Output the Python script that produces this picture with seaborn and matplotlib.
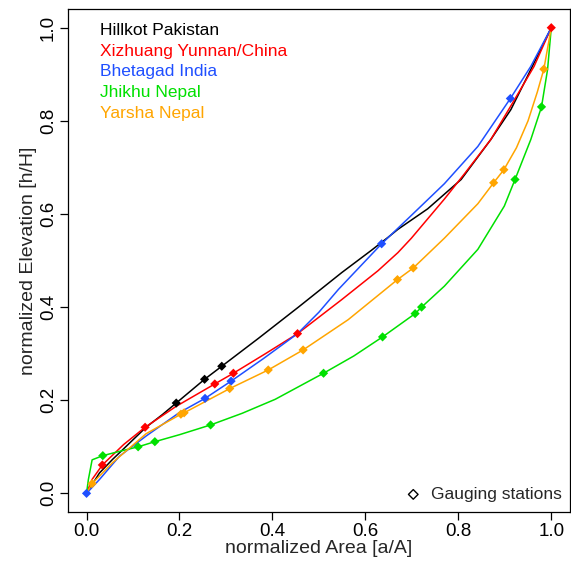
import pandas as pd
import matplotlib
matplotlib.use("Agg")
import matplotlib.pyplot as plt
import seaborn as sns

# hypsometric curves (normalized area vs normalized elevation)
hillkot_x = [0, 0.028, 0.056, 0.078, 0.128, 0.163, 0.193, 0.254, 0.291, 0.37, 0.456, 0.549, 0.613, 0.649, 0.670, 0.734, 0.806, 0.870, 0.913, 0.949, 1.0]
hillkot_y = [0, 0.044, 0.073, 0.094, 0.142, 0.169, 0.194, 0.245, 0.273, 0.333, 0.400, 0.474, 0.522, 0.550, 0.567, 0.611, 0.674, 0.760, 0.824, 0.896, 1.0]

xizhuang_x = [0, 0.012, 0.034, 0.08, 0.126, 0.193, 0.276, 0.316, 0.385, 0.454, 0.549, 0.627, 0.670, 0.699, 0.770, 0.813, 0.870, 0.913, 0.963, 1.0]
xizhuang_y = [0, 0.03, 0.061, 0.105, 0.142, 0.187, 0.235, 0.258, 0.30, 0.343, 0.416, 0.478, 0.517, 0.548, 0.632, 0.686, 0.760, 0.832, 0.917, 1.0]

bhetagad_x = [0, 0.028, 0.071, 0.128, 0.199, 0.255, 0.311, 0.38, 0.454, 0.50, 0.542, 0.635, 0.699, 0.770, 0.842, 0.912, 0.956, 1.0]
bhetagad_y = [0, 0.030, 0.080, 0.123, 0.173, 0.204, 0.241, 0.289, 0.343, 0.389, 0.438, 0.536, 0.597, 0.665, 0.745, 0.848, 0.917, 1.0]

jhikhu_x = [0, 0.004, 0.012, 0.035, 0.07, 0.111, 0.147, 0.2, 0.267, 0.335, 0.406, 0.510, 0.575, 0.637, 0.707, 0.721, 0.770, 0.842, 0.899, 0.922, 0.956, 0.979, 0.992, 1.0]
jhikhu_y = [0, 0.03, 0.072, 0.081, 0.09, 0.100, 0.111, 0.126, 0.147, 0.172, 0.202, 0.258, 0.295, 0.336, 0.386, 0.400, 0.445, 0.524, 0.617, 0.674, 0.760, 0.830, 0.91, 1.0]

yarsha_x = [0, 0.012, 0.056, 0.128, 0.203, 0.210, 0.308, 0.391, 0.466, 0.563, 0.669, 0.703, 0.770, 0.842, 0.876, 0.898, 0.925, 0.950, 0.970, 0.984, 1.0]
yarsha_y = [0, 0.021, 0.066, 0.128, 0.170, 0.173, 0.225, 0.265, 0.308, 0.373, 0.459, 0.484, 0.548, 0.622, 0.667, 0.695, 0.742, 0.800, 0.862, 0.911, 1.0]

# gauging stations
hillkot_sx = [0.193, 0.254, 0.291]
hillkot_sy = [0.194, 0.245, 0.273]
xizhuang_sx = [0.034, 0.126, 0.276, 0.316, 0.454, 1.0]
xizhuang_sy = [0.061, 0.142, 0.235, 0.258, 0.343, 1.0]
bhetagad_sx = [0, 0.255, 0.311, 0.635, 0.912]
bhetagad_sy = [0, 0.204, 0.241, 0.536, 0.848]
jhikhu_sx = [0.035, 0.111, 0.147, 0.267, 0.510, 0.637, 0.707, 0.721, 0.922, 0.979]
jhikhu_sy = [0.081, 0.100, 0.111, 0.147, 0.258, 0.336, 0.386, 0.400, 0.674, 0.830]
yarsha_sx = [0.012, 0.203, 0.210, 0.308, 0.391, 0.466, 0.669, 0.703, 0.876, 0.898, 0.984]
yarsha_sy = [0.021, 0.170, 0.173, 0.225, 0.265, 0.308, 0.459, 0.484, 0.667, 0.695, 0.911]

names = ["Hillkot Pakistan", "Xizhuang Yunnan/China", "Bhetagad India", "Jhikhu Nepal", "Yarsha Nepal"]
colors = ["black", "#ff0000", "#1f4fff", "#00e000", "#ffa500"]

curves = [(hillkot_x, hillkot_y), (xizhuang_x, xizhuang_y), (bhetagad_x, bhetagad_y),
          (jhikhu_x, jhikhu_y), (yarsha_x, yarsha_y)]
stations = [(hillkot_sx, hillkot_sy), (xizhuang_sx, xizhuang_sy), (bhetagad_sx, bhetagad_sy),
            (jhikhu_sx, jhikhu_sy), (yarsha_sx, yarsha_sy)]

curve_df = pd.concat([pd.DataFrame({"area": x, "elev": y, "basin": n})
                      for (x, y), n in zip(curves, names)], ignore_index=True)
station_df = pd.concat([pd.DataFrame({"area": x, "elev": y, "basin": n})
                        for (x, y), n in zip(stations, names)], ignore_index=True)

sns.set_style("ticks")
plt.rcParams["font.family"] = ["Liberation Sans", "DejaVu Sans"]

fig = plt.figure(figsize=(5.71, 5.67), dpi=100)
ax = fig.add_axes([0.119, 0.097, 0.879, 0.887])

palette = dict(zip(names, colors))
sns.lineplot(data=curve_df, x="area", y="elev", hue="basin", palette=palette,
             sort=False, estimator=None, linewidth=1.1, legend=False, ax=ax)
sns.scatterplot(data=station_df, x="area", y="elev", hue="basin", palette=palette,
                marker="D", s=22, linewidth=0, legend=False, ax=ax, zorder=3)

ax.set_xlim(-0.04, 1.04)
ax.set_ylim(-0.04, 1.04)
ticks = [0.0, 0.2, 0.4, 0.6, 0.8, 1.0]
ax.set_xticks(ticks)
ax.set_yticks(ticks)
ax.set_xticklabels([f"{t:.1f}" for t in ticks])
ax.set_yticklabels([f"{t:.1f}" for t in ticks], rotation=90, va="center")
ax.tick_params(direction="out", length=6, width=0.9, labelsize=13.5, pad=2, colors="black")
for s in ax.spines.values():
    s.set_visible(True)
    s.set_linewidth(0.9)
    s.set_color("black")
ax.set_xlabel("normalized Area [a/A]", fontsize=14, labelpad=0)
ax.set_ylabel("normalized Elevation [h/H]", fontsize=14, labelpad=2)

# coloured text legend
for i, (n, c) in enumerate(zip(names, colors)):
    ax.text(0.063, 0.958 - i * 0.0415, n, color=c, transform=ax.transAxes,
            fontsize=12.5, va="center", ha="left")

# station legend
ax.scatter([0.688], [0.035], marker="D", s=24, facecolors="none", edgecolors="black",
           linewidths=1.0, transform=ax.transAxes)
ax.text(0.724, 0.035, "Gauging stations", transform=ax.transAxes,
        fontsize=12.5, va="center", ha="left")

fig.savefig("out.png", dpi=100)
